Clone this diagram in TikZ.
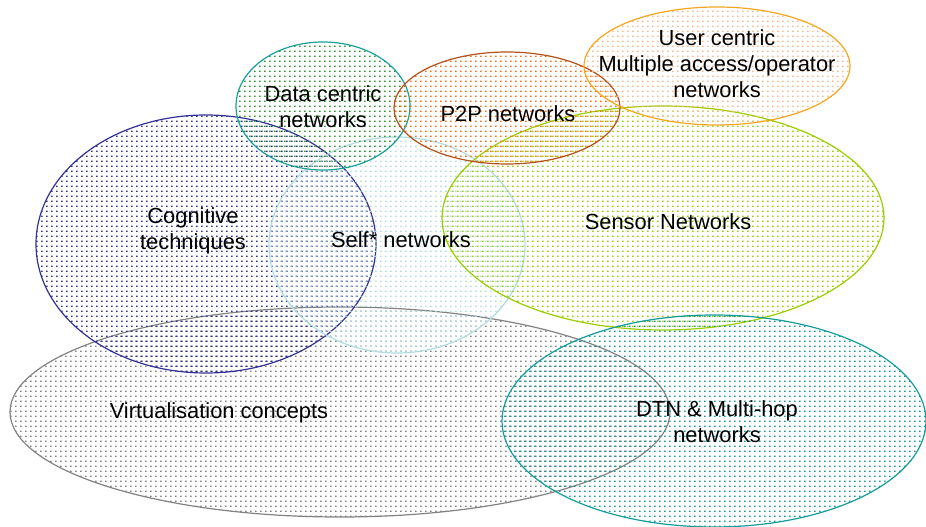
\documentclass[tikz,border=0pt]{standalone}
\usepackage{fontspec}
\setmainfont{Liberation Sans}
\usepackage{xcolor}
\usetikzlibrary{patterns}

\definecolor{dataline}{RGB}{25,160,155}
\definecolor{datadots}{RGB}{40,150,40}
\definecolor{ptpline}{RGB}{180,80,25}
\definecolor{ptpdots}{RGB}{250,110,20}
\definecolor{userline}{RGB}{248,165,30}
\definecolor{userdots}{RGB}{248,185,140}
\definecolor{sensline}{RGB}{155,205,0}
\definecolor{selfline}{RGB}{175,220,225}
\definecolor{cogline}{RGB}{50,50,150}
\definecolor{virtline}{RGB}{130,130,130}
\definecolor{dtnline}{RGB}{20,155,155}

% small square dots, like the grid fill of the original
\pgfdeclarepatternformonly{griddots}{\pgfqpoint{0pt}{0pt}}{\pgfqpoint{3.9pt}{3.75pt}}{\pgfqpoint{3.9pt}{3.75pt}}
{
  \pgfpathrectangle{\pgfqpoint{0pt}{0pt}}{\pgfqpoint{1.3pt}{1.2pt}}
  \pgfusepath{fill}
}

\tikzset{
  area/.style={line width=0.9pt, pattern=griddots},
  caption/.style={align=center, inner sep=0pt, font=\fontsize{16.4}{19.5}\selectfont}
}

\begin{document}
\begin{tikzpicture}[x=0.75pt, y=-0.75pt]
\useasboundingbox (0,0) rectangle (926,527);

% sets
\draw[area, draw=virtline, pattern color=virtline] (340,412) ellipse [x radius=330, y radius=105];
\draw[area, draw=cogline, pattern color=cogline] (206,244) ellipse [x radius=170, y radius=129];
\draw[area, draw=selfline, pattern color=selfline] (397,245) ellipse [x radius=128, y radius=108];
\draw[area, draw=sensline, pattern color=sensline] (663,218) ellipse [x radius=221, y radius=112];
\draw[area, draw=dtnline, pattern color=dtnline] (714,421) ellipse [x radius=212, y radius=106];
\draw[area, draw=dataline, pattern color=datadots] (323,106) ellipse [x radius=87, y radius=64];
\draw[area, draw=ptpline, pattern color=ptpdots] (507,108) ellipse [x radius=113, y radius=56];
\draw[area, draw=userline, pattern color=userdots] (717,66) ellipse [x radius=133, y radius=59];

% names
\node (data) [caption] at (323,107) {Data centric\\networks};
\node (ptp) [caption] at (508,114) {P2P networks};
\node (user) [caption] at (717,64) {User centric\\Multiple access/operator\\networks};
\node (sensor) [caption] at (668,222) {Sensor Networks};
\node (cog) [caption] at (193,231) {Cognitive\\techniques};
\node (self) [caption] at (401,240) {Self* networks};
\node (virt) [caption] at (219,413) {Virtualisation concepts};
\node (dtn) [caption] at (717,422) {DTN \& Multi-hop\\networks};
\end{tikzpicture}
\end{document}
